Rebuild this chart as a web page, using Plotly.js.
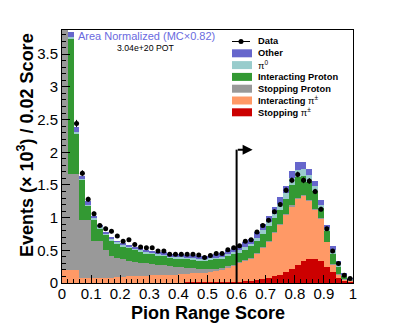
<!DOCTYPE html>
<html>
<head>
<meta charset="utf-8">
<script src="https://cdn.plot.ly/plotly-3.0.1.min.js"></script>
<style>
  body { margin: 0; background: #fff; }
  #plot { width: 415px; height: 335px; }
</style>
</head>
<body>
<div id="plot"></div>
<script>
// stack components per 0.02 bin of pion range score, in units of 10^3 events
var stopPi = [0.005,0.005,0.005,0.005,0.005,0.005,0.005,0.005,0.005,0.005,
              0.005,0.005,0.005,0.005,0.005,0.005,0.005,0.005,0.005,0.005,
              0.005,0.01,0.01,0.01,0.01,0.01,0.01,0.01,0.015,0.015,
              0.02,0.03,0.03,0.04,0.06,0.08,0.10,0.13,0.17,0.22,
              0.28,0.33,0.37,0.37,0.34,0.25,0.17,0.08,0.03,0.02];
var intPi = [0.195,0.195,0.195,0.075,0.065,0.065,0.065,0.075,0.075,0.085,
             0.085,0.095,0.095,0.105,0.105,0.115,0.115,0.115,0.125,0.125,
             0.135,0.13,0.14,0.14,0.15,0.16,0.17,0.19,0.215,0.245,
             0.28,0.30,0.34,0.40,0.47,0.54,0.66,0.76,0.87,0.95,
             1.01,1.00,0.89,0.75,0.64,0.37,0.11,0.05,0.02,0.01];
var stopProton = [4.3,1.47,1.47,0.89,0.90,0.58,0.58,0.42,0.34,0.29,
                  0.27,0.24,0.22,0.19,0.19,0.17,0.16,0.15,0.13,0.12,
                  0.10,0.09,0.08,0.07,0.06,0.05,0.04,0.03,0.03,0.02,
                  0.02,0.02,0.02,0.02,0.02,0.02,0.02,0.02,0.02,0.02,
                  0.01,0.01,0.01,0.01,0.01,0.01,0.01,0.01,0.01,0.01];
var intProton = [0.4,2.07,0.61,0.60,0.21,0.32,0.18,0.23,0.23,0.22,
                 0.19,0.19,0.18,0.18,0.15,0.15,0.14,0.14,0.12,0.12,
                 0.13,0.13,0.12,0.12,0.12,0.13,0.14,0.14,0.15,0.16,
                 0.14,0.16,0.17,0.18,0.20,0.23,0.21,0.21,0.22,0.31,
                 0.32,0.29,0.28,0.27,0.15,0.16,0.16,0.11,0.05,0.01];
var pi0 = [0.05,0.03,0.03,0.02,0.02,0.02,0.02,0.02,0.02,0.02,
           0.025,0.025,0.025,0.025,0.025,0.025,0.025,0.025,0.025,0.025,
           0.025,0.025,0.025,0.025,0.025,0.03,0.03,0.03,0.03,0.03,
           0.04,0.04,0.04,0.05,0.06,0.06,0.07,0.09,0.09,0.10,
           0.11,0.11,0.10,0.08,0.06,0.05,0.05,0.04,0.02,0.01];
var other = [0.15,0.07,0.07,0.05,0.05,0.04,0.04,0.03,0.03,0.03,
             0.035,0.025,0.025,0.025,0.035,0.025,0.035,0.035,0.045,0.045,
             0.045,0.045,0.055,0.055,0.055,0.05,0.06,0.06,0.06,0.07,
             0.07,0.07,0.08,0.09,0.09,0.10,0.10,0.10,0.11,0.12,
             0.12,0.11,0.10,0.08,0.07,0.05,0.06,0.04,0.02,0.01];
var dataY = [5.3,4.1,2.44,1.68,1.28,1.06,0.88,0.83,0.79,0.72,
             0.64,0.66,0.59,0.55,0.54,0.54,0.49,0.49,0.44,0.44,
             0.44,0.44,0.44,0.43,0.39,0.42,0.45,0.45,0.51,0.54,
             0.57,0.64,0.66,0.78,0.88,0.96,1.09,1.20,1.42,1.57,
             1.66,1.57,1.56,1.40,1.13,0.83,0.49,0.30,0.12,0.07];
var dataErr = [0.08,0.07,0.055,0.045,0.04,0.035,0.03,0.03,0.03,0.03,
               0.028,0.028,0.027,0.026,0.026,0.026,0.025,0.025,0.024,0.024,
               0.024,0.024,0.024,0.024,0.023,0.024,0.024,0.024,0.025,0.026,
               0.027,0.028,0.028,0.03,0.032,0.034,0.036,0.038,0.041,0.043,
               0.044,0.043,0.043,0.041,0.037,0.032,0.025,0.02,0.013,0.01];

var stackNames = ["Stopping π±", "Interacting π±", "Stopping Proton", "Interacting Proton", "π0", "Other"];
var stackColors = ["#cc0000", "#ff9966", "#999999", "#339933", "#99cccc", "#6666cc"];
var stackValues = [stopPi, intPi, stopProton, intProton, pi0, other];

var legendLabels = ["<b>Other</b>", "π<sup>0</sup>", "<b>Interacting Proton</b>", "<b>Stopping Proton</b>",
                    "<b>Interacting </b>π<sup>±</sup>", "<b>Stopping </b>π<sup>±</sup>"];
var legendColors = ["#6666cc", "#99cccc", "#339933", "#999999", "#ff9966", "#cc0000"];

var binCenters = dataY.map(function (v, i) { return 0.01 + 0.02 * i; });

var font = "Liberation Sans, Arial, Helvetica, sans-serif";

var traces = [];
for (var k = 0; k < stackValues.length; k++) {
    traces.push({
        type: 'bar',
        x: binCenters,
        y: stackValues[k],
        width: 0.02,
        name: stackNames[k],
        marker: { color: stackColors[k], line: { width: 0 } },
        showlegend: false,
        hoverinfo: 'skip'
    });
}
traces.push({
    type: 'scatter',
    mode: 'markers',
    x: binCenters,
    y: dataY,
    name: 'Data',
    marker: { color: 'black', size: 5 },
    error_y: { type: 'data', array: dataErr, color: 'black', thickness: 1, width: 0 },
    showlegend: false,
    cliponaxis: true
});

// plot frame in pixels, for placing the hand-made legend and labels
var L = 62, T = 30, W = 291, H = 253;
function px(x) { return (x - L) / W; }
function py(y) { return (T + H - y) / H; }

var shapes = [
    { type: 'line', xref: 'x', yref: 'y', x0: 0.6, x1: 0.6, y0: 0, y1: 2.04,
      line: { color: 'black', width: 2 } }
];
var annotations = [
    { xref: 'x', yref: 'y', axref: 'x', ayref: 'y', x: 0.655, y: 2.04, ax: 0.599, ay: 2.04,
      showarrow: true, arrowhead: 2, arrowsize: 1, arrowwidth: 2, arrowcolor: 'black', text: '' },
    { xref: 'paper', yref: 'paper', x: px(76), y: py(36), xanchor: 'left', yanchor: 'middle',
      text: 'Area Normalized (MC×0.82)', showarrow: false,
      font: { family: font, size: 11, color: '#6a6ae0' } },
    { xref: 'paper', yref: 'paper', x: px(145), y: py(48), xanchor: 'center', yanchor: 'middle',
      text: '3.04e+20 POT', showarrow: false, font: { family: font, size: 8.7, color: 'black' } },
    { xref: 'paper', yref: 'paper', x: px(207.5), y: py(313), xanchor: 'center', yanchor: 'middle',
      text: '<b>Pion Range Score</b>', showarrow: false, font: { family: font, size: 18, color: 'black' } },
    { xref: 'paper', yref: 'paper', x: px(25), y: py(145), xanchor: 'center', yanchor: 'middle',
      textangle: -90, text: '<b>Events (× 10<sup>3</sup>) / 0.02 Score</b>', showarrow: false,
      font: { family: font, size: 18, color: 'black' } }
];

// legend: data entry then the stack
var legY0 = 41.5, legStep = 11.8;
shapes.push({ type: 'line', xref: 'paper', yref: 'paper', x0: px(232), x1: px(250), y0: py(legY0), y1: py(legY0),
              line: { color: 'black', width: 1 } });
shapes.push({ type: 'circle', xref: 'paper', yref: 'paper', x0: px(238.5), x1: px(243.5), y0: py(legY0 + 2.5), y1: py(legY0 - 2.5),
              fillcolor: 'black', line: { color: 'black', width: 0 } });
annotations.push({ xref: 'paper', yref: 'paper', x: px(256), y: py(legY0), xanchor: 'left', yanchor: 'middle',
                   text: '<b>Data</b>', showarrow: false, font: { family: font, size: 9.3, color: 'black' } });
for (var i = 0; i < legendLabels.length; i++) {
    var yc = legY0 + legStep * (i + 1);
    shapes.push({ type: 'rect', xref: 'paper', yref: 'paper', x0: px(232), x1: px(252), y0: py(yc + 4), y1: py(yc - 4),
                  fillcolor: legendColors[i], line: { width: 0 } });
    annotations.push({ xref: 'paper', yref: 'paper', x: px(256), y: py(yc), xanchor: 'left', yanchor: 'middle',
                       text: legendLabels[i], showarrow: false, font: { family: font, size: 9.3, color: 'black' } });
}

var layout = {
    width: 415,
    height: 335,
    margin: { l: L, r: 415 - L - W, t: T, b: 335 - T - H },
    paper_bgcolor: 'white',
    plot_bgcolor: 'white',
    barmode: 'stack',
    bargap: 0,
    showlegend: false,
    font: { family: font, color: 'black' },
    xaxis: {
        range: [0, 1],
        dtick: 0.1,
        ticks: 'inside',
        ticklen: 8,
        tickcolor: 'black',
        tickfont: { size: 15 },
        ticklabelstandoff: -3,
        minor: { dtick: 0.02, ticks: 'inside', ticklen: 4, tickcolor: 'black' },
        showline: true,
        linecolor: 'black',
        linewidth: 1,
        mirror: true,
        showgrid: false,
        zeroline: false
    },
    yaxis: {
        range: [0, 3.87],
        dtick: 0.5,
        ticks: 'inside',
        ticklen: 8,
        tickcolor: 'black',
        tickfont: { size: 15 },
        minor: { dtick: 0.1, ticks: 'inside', ticklen: 4, tickcolor: 'black' },
        showline: true,
        linecolor: 'black',
        linewidth: 1,
        mirror: true,
        showgrid: false,
        zeroline: false
    },
    shapes: shapes,
    annotations: annotations
};

Plotly.newPlot('plot', traces, layout, { displayModeBar: false, staticPlot: true });
</script>
</body>
</html>
